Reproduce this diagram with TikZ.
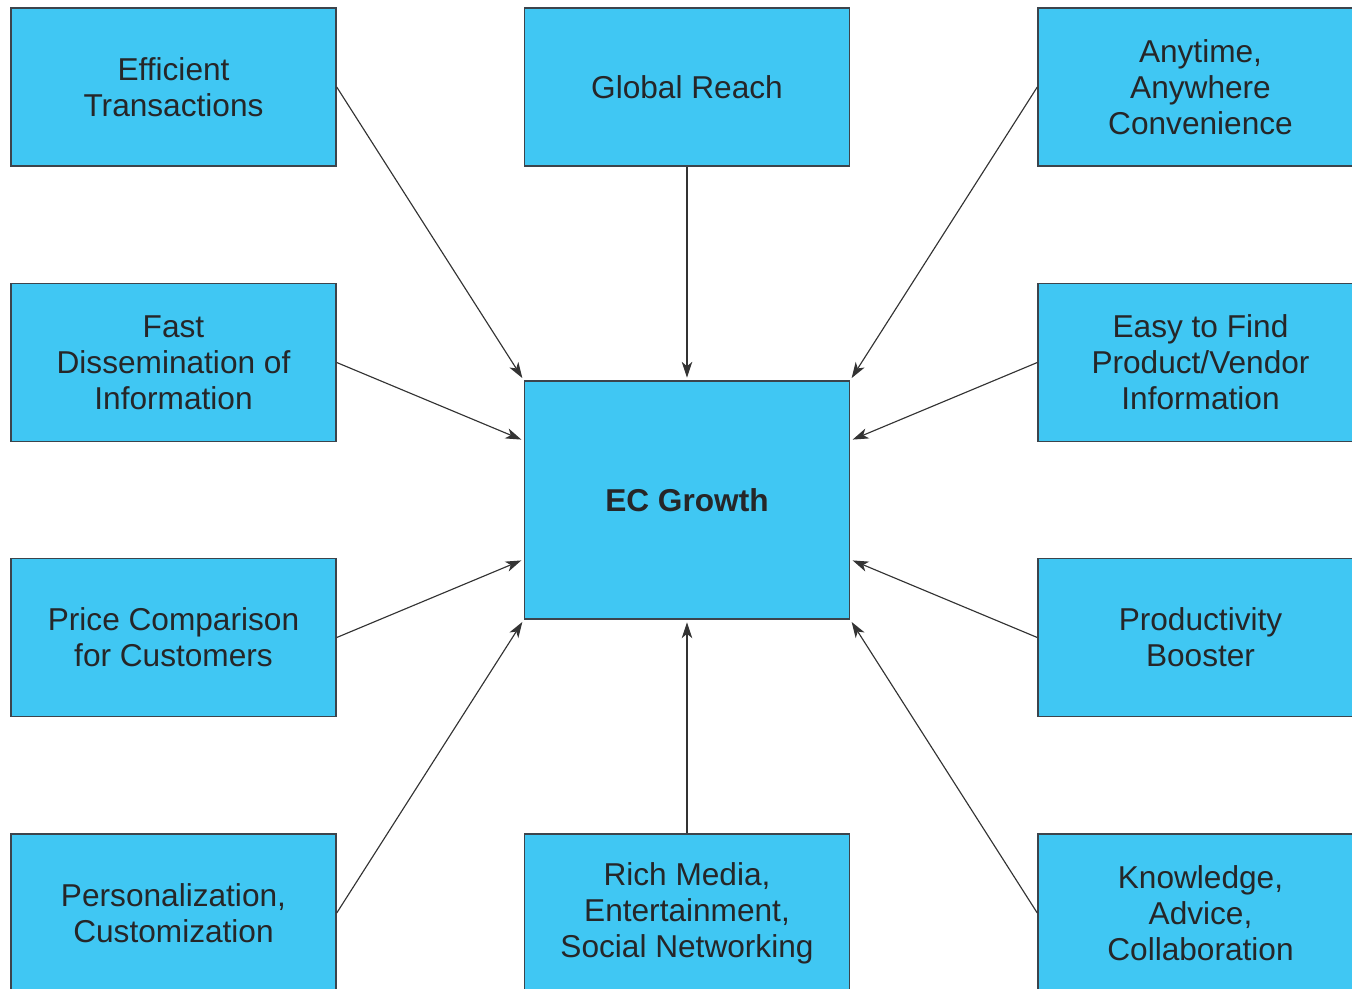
\documentclass[tikz,border=0pt]{standalone}
\usepackage{fontspec}
\setmainfont{Liberation Sans}
\usetikzlibrary{arrows.meta}

\definecolor{boxblue}{RGB}{64,199,243}
\definecolor{boxline}{RGB}{60,68,76}
\definecolor{boxtext}{RGB}{38,38,40}

\tikzset{
  factor/.style={draw=boxline, line width=0.85pt, fill=boxblue,
    text=boxtext, minimum width=6.5cm, minimum height=3.16cm,
    align=center, inner sep=0pt, font=\fontsize{18}{20.5}\selectfont},
  link/.style={draw=black!80, line width=0.65pt, shorten >=1.5pt,
    -{Stealth[length=9pt, width=6pt, inset=2.5pt]}}
}

\begin{document}
\begin{tikzpicture}[x=0.02cm, y=-0.02cm]
    \clip (0,0) rectangle (1352,988);
    \useasboundingbox (0,0) rectangle (1352,988);

    \node (ec) at (687,500) [factor, minimum height=4.76cm,
      font=\bfseries\fontsize{18}{20.5}\selectfont] {EC Growth};

    \node (eff) at (173.5,87) [factor] {Efficient\\Transactions};
    \node (glob) at (687,87) [factor] {Global Reach};
    \node (any) at (1200.5,87) [factor] {Anytime,\\Anywhere\\Convenience};

    \node (fast) at (173.5,362.5) [factor] {Fast\\Dissemination of\\Information};
    \node (easy) at (1200.5,362.5) [factor] {Easy to Find\\Product/Vendor\\Information};

    \node (price) at (173.5,637.5) [factor] {Price Comparison\\for Customers};
    \node (prod) at (1200.5,637.5) [factor] {Productivity\\Booster};

    \node (pers) at (173.5,913) [factor] {Personalization,\\Customization};
    \node (rich) at (687,913) [factor] {Rich Media,\\Entertainment,\\Social Networking};
    \node (know) at (1200.5,913) [factor] {Knowledge,\\Advice,\\Collaboration};

    \foreach \from/\to in {eff.east/ec.north west, glob.south/ec.north,
      any.west/ec.north east, fast.east/ec.160, easy.west/ec.20,
      price.east/ec.200, prod.west/ec.340, pers.east/ec.south west,
      rich.north/ec.south, know.west/ec.south east} {
      \draw[link] (\from) -- (\to);
    }
\end{tikzpicture}
\end{document}
